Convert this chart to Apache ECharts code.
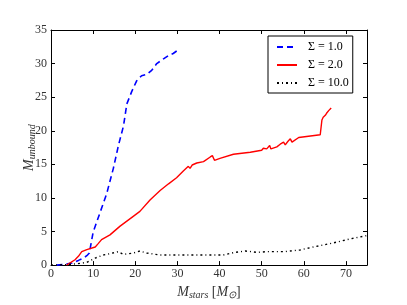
<!DOCTYPE html>
<html><head><meta charset="utf-8">
<script src="https://cdn.jsdelivr.net/npm/echarts@6/dist/echarts.min.js"></script>
<style>html,body{margin:0;padding:0;background:#fff}#c{width:407px;height:305px}</style>
</head><body><div id="c"></div>
<script>
var xTicks = [0,10,20,30,40,50,60,70];
var yTicks = [0,5,10,15,20,25,30,35];
var s1x = [1.3,3,5,6.5,7.7,8.5,9.1,10,11.6,13.2,14.8,16,17.2,18,19.2,20.3,21.5,22.7,23.9,25.1,26.7,27.9,29,30.1];
var s1y = [0,0.1,0.3,0.7,1.05,1.4,1.8,4.9,7.75,10.6,14.4,17.8,20.7,24,25.9,27.4,28.2,28.4,29,30,30.7,31.2,31.5,32];
var s2x = [3.7,5.7,6.5,7.3,8.5,10.5,11.2,12,14,16.4,19.6,21.1,23.5,25.9,27.9,29.8,31.4,32.6,33,33.5,34.6,36.2,37.8,38.3,38.8,40.1,43.3,47.3,50,50.4,50.8,51.2,51.9,52.2,53.6,54.4,55.2,55.6,56.2,56.8,57.2,57.6,58.8,63.9,64.3,64.6,65.1,65.4,65.9,66.1,66.5];
var s2y = [0,0.8,1.3,2.0,2.3,2.7,3.2,3.8,4.5,5.8,7.3,8,9.7,11.1,12.1,13,14,14.7,14.4,14.9,15.2,15.4,16.1,16.3,15.6,15.9,16.5,16.8,17.1,17.4,17.2,17.3,17.8,17.3,17.6,18.0,18.3,17.9,18.4,18.8,18.3,18.4,19,19.4,21.6,22.0,22.3,22.6,23,22.8,23.4];
var s3x = [0,3,6.1,8.5,10.5,12.4,14,16,17.2,19.6,21.1,22.7,25.9,32.2,40.9,43.3,46.1,48.9,51.2,55.2,59.1,62.3,67,71,75];
var s3y = [0,0.05,0.2,0.4,1.05,1.5,1.7,2.0,1.6,1.8,2.1,1.8,1.5,1.5,1.5,1.85,2.1,1.9,2.0,2.0,2.25,2.7,3.3,3.9,4.4];
var names = ['Σ = 1.0','Σ = 2.0','Σ = 10.0'];

function zip(a,b){return a.map(function(v,i){return [v,b[i]];});}
var serif = 'Liberation Serif';
var chart = echarts.init(document.getElementById('c'));
var axBase = {
  axisLine:{show:true,onZero:false,lineStyle:{color:'#000',width:1}},
  axisTick:{show:true,inside:true,length:4,lineStyle:{color:'#000'}},
  splitLine:{show:false}
};
chart.setOption({
  animation:false,
  backgroundColor:'#fff',
  grid:{left:51,right:40,top:30,bottom:31,show:false},
  legend:{
    orient:'vertical', left:268, top:36,
    padding:[5,4,4,8], itemGap:6, itemWidth:20, itemHeight:12,
    borderColor:'#000', borderWidth:1, backgroundColor:'#fff',
    itemStyle:{opacity:0},
    textStyle:{fontFamily:serif,fontSize:12,color:'#000',padding:[0,0,0,6]},
    data:names
  },
  xAxis:[
    Object.assign({type:'value',min:0,max:75,interval:10,position:'bottom',
      name:'{i|M}{s|stars} {n|[}{i|M}{s|⊙}{n|]}',nameLocation:'middle',nameGap:14,
      nameTextStyle:{rich:{i:{fontFamily:serif,fontStyle:'italic',fontSize:14,color:'#333'},
        s:{fontFamily:serif,fontStyle:'italic',fontSize:10,color:'#333',verticalAlign:'bottom',padding:[6,0,0,0]},
        n:{fontFamily:serif,fontSize:14,color:'#333'}}},
      axisLabel:{fontFamily:serif,fontSize:12,color:'#333',margin:3,
        formatter:function(v){return xTicks.indexOf(v)>=0?String(v):'';}}}, axBase),
    Object.assign({type:'value',min:0,max:75,interval:10,position:'top',axisLabel:{show:false}}, axBase)
  ],
  yAxis:[
    Object.assign({type:'value',min:0,max:35,interval:5,position:'left',
      name:'{i|M}{s|unbound}',nameLocation:'middle',nameGap:14,nameRotate:90,nameMoveOverlap:false,
      nameTextStyle:{rich:{i:{fontFamily:serif,fontStyle:'italic',fontSize:14,color:'#333'},
        s:{fontFamily:serif,fontStyle:'italic',fontSize:10,color:'#333',verticalAlign:'bottom',padding:[6,0,0,0]}}},
      axisLabel:{fontFamily:serif,fontSize:12,color:'#333',margin:4,
        formatter:function(v){return yTicks.indexOf(v)>=0?String(v):'';}}}, axBase),
    Object.assign({type:'value',min:0,max:35,interval:5,position:'right',axisLabel:{show:false}}, axBase)
  ],
  series:[
    {name:names[0],type:'line',data:zip(s1x,s1y),showSymbol:false,symbol:'none',
      lineStyle:{color:'#0000ff',width:1.6,type:[6,4]},itemStyle:{color:'#0000ff'}},
    {name:names[1],type:'line',data:zip(s2x,s2y),showSymbol:false,symbol:'none',
      lineStyle:{color:'#ff0000',width:1.4},itemStyle:{color:'#ff0000'}},
    {name:names[2],type:'line',data:zip(s3x,s3y),showSymbol:false,symbol:'none',
      lineStyle:{color:'#000',width:1.4,type:[2,3,1,3]},itemStyle:{color:'#000'}}
  ]
});
</script></body></html>
